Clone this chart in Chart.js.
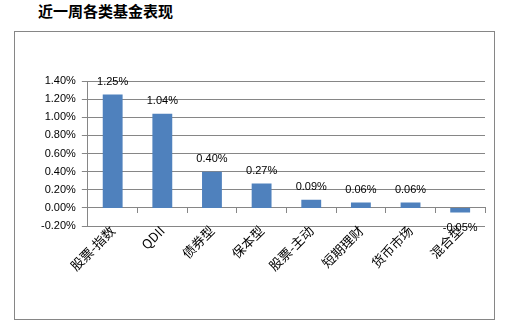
<!DOCTYPE html>
<html lang="zh">
<head>
  <meta charset="UTF-8">
  <title>近一周各类基金表现</title>
  <script src="https://cdn.jsdelivr.net/npm/chart.js"></script>
  <style>
    body { margin: 0; background: #fff; }
    #title { position: absolute; left: 38px; top: 3px; font: bold 15px "Noto Sans CJK SC", sans-serif; color: #000; line-height: 15px; }
    #frame { position: absolute; left: 14px; top: 31px; width: 481px; height: 289px; box-sizing: border-box; border: 1px solid #868686; }
    #chart { position: absolute; left: 0; top: 0; }
  </style>
</head>
<body>
  <div id="title">近一周各类基金表现</div>
  <div id="frame"></div>
  <canvas id="chart" width="506" height="330"></canvas>
  <script>
    // weekly return by fund type, in percent
    const categories = ['股票-指数', 'QDII', '债券型', '保本型', '股票-主动', '短期理财', '货币市场', '混合型'];
    const returns = [1.25, 1.04, 0.40, 0.27, 0.09, 0.06, 0.06, -0.05];
    const yMin = -0.2, yMax = 1.4, yStep = 0.2;

    const pct = v => (Math.abs(v) < 1e-9 ? 0 : v).toFixed(2) + '%';

    // Excel style value labels at the outside end of each bar
    const valueLabels = {
      id: 'valueLabels',
      afterDatasetsDraw(chart) {
        const ctx = chart.ctx;
        const meta = chart.getDatasetMeta(0);
        ctx.save();
        ctx.font = '11px "Liberation Sans", Arial, sans-serif';
        ctx.fillStyle = '#000';
        ctx.textAlign = 'center';
        ctx.textBaseline = 'middle';
        meta.data.forEach((bar, i) => {
          const v = returns[i];
          const y = v >= 0 ? bar.y - 12.5 : bar.y + 16;
          ctx.fillText(pct(v), bar.x, y);
        });
        ctx.restore();
      }
    };

    new Chart(document.getElementById('chart'), {
      type: 'bar',
      data: {
        labels: categories,
        datasets: [{
          data: returns,
          backgroundColor: '#4F81BD',
          categoryPercentage: 1,
          barPercentage: 0.4
        }]
      },
      options: {
        responsive: false,
        animation: false,
        layout: { padding: { left: 35, right: 21, top: 81, bottom: 104 } },
        plugins: { legend: { display: false }, tooltip: { enabled: false } },
        scales: {
          x: {
            position: { y: 0 },
            grid: { drawOnChartArea: false, drawTicks: true, tickLength: 5, color: '#868686', offset: true },
            border: { color: '#868686' },
            ticks: {
              minRotation: 45, maxRotation: 45, padding: 10, color: '#000',
              font: { family: '"Noto Sans CJK SC", sans-serif', size: 13 }
            }
          },
          y: {
            min: yMin, max: yMax,
            grid: { color: '#868686', tickLength: 6 },
            border: { color: '#868686' },
            ticks: {
              stepSize: yStep, padding: 6, color: '#000',
              font: { family: '"Liberation Sans", Arial, sans-serif', size: 11 },
              callback: v => pct(v)
            }
          }
        }
      },
      plugins: [valueLabels]
    });
  </script>
</body>
</html>
